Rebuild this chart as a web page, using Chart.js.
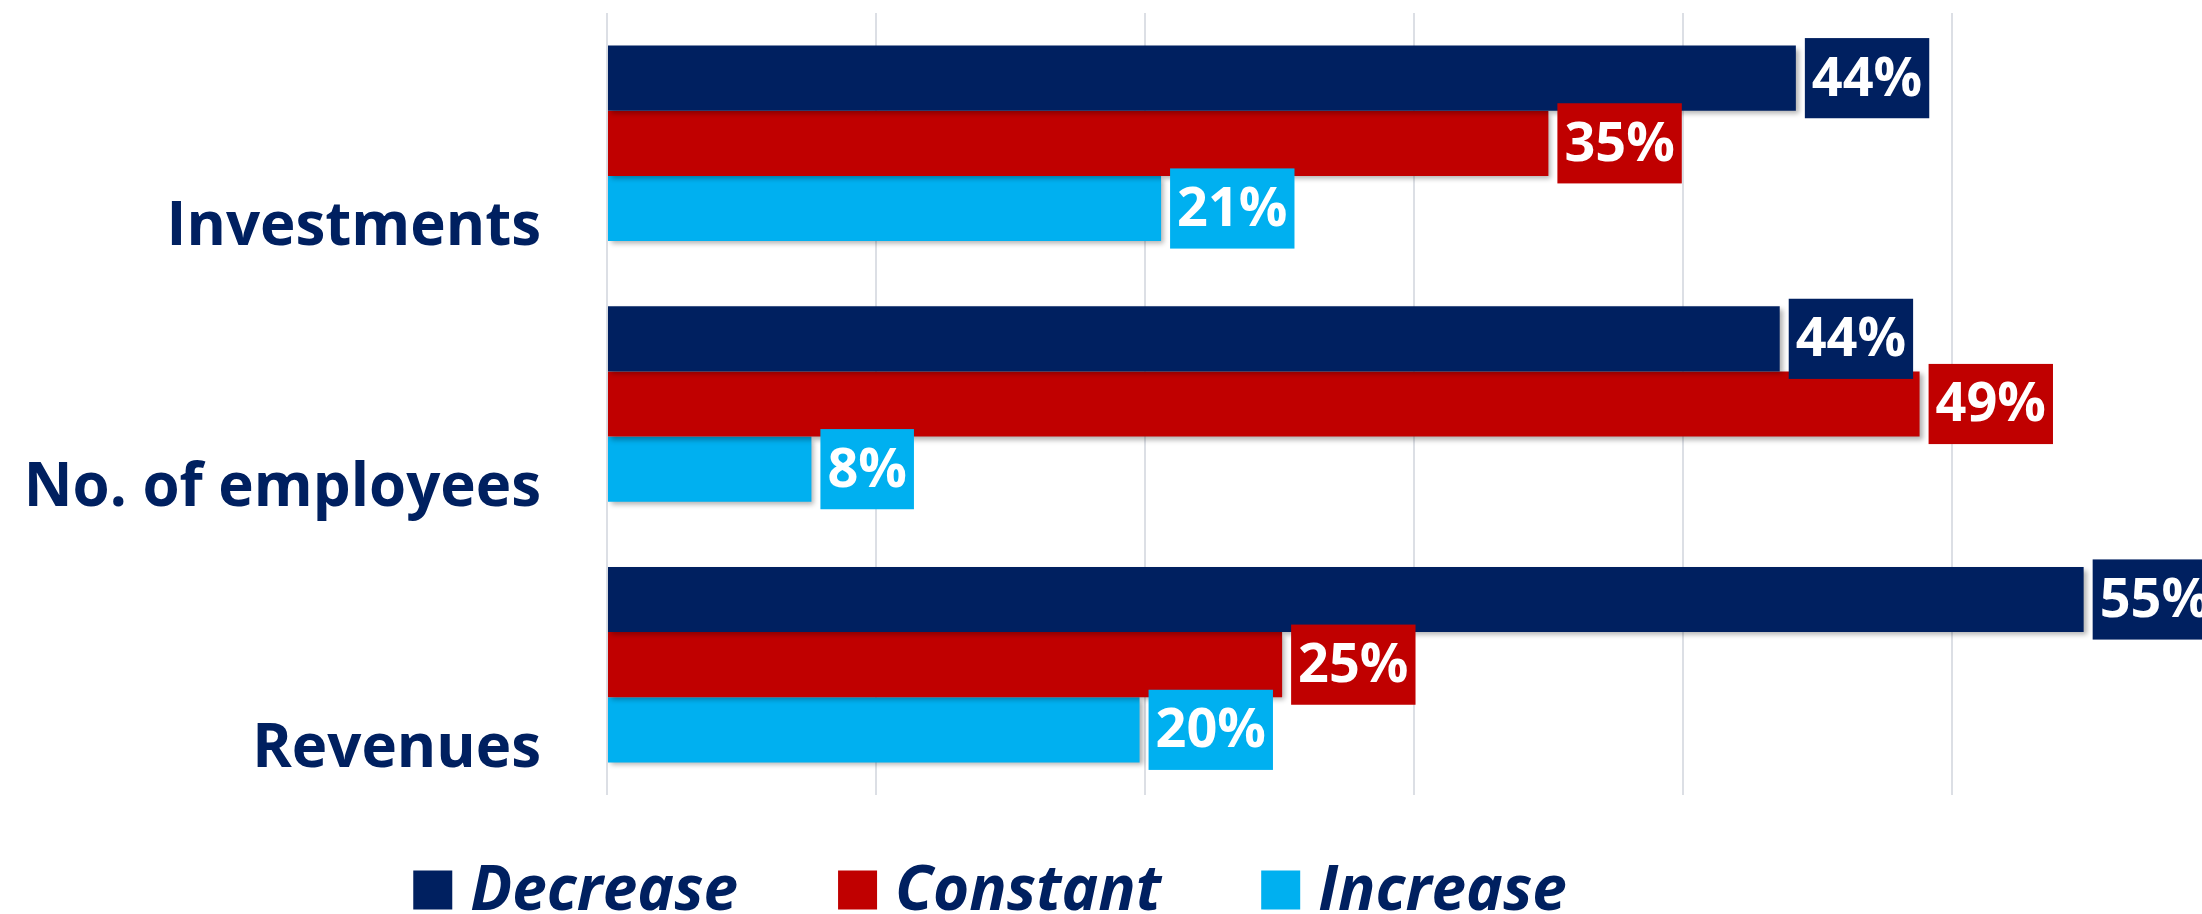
<!DOCTYPE html>
<html>
<head>
<meta charset="utf-8">
<script src="https://cdn.jsdelivr.net/npm/chart.js@4.4.1/dist/chart.umd.min.js"></script>
<style>
  html, body { margin: 0; padding: 0; background: #fff; overflow: hidden; }
  #wrap { width: 2202px; height: 914px; }
</style>
</head>
<body>
<div id="wrap"><canvas id="barChart"></canvas></div>
<script>
const categories = ['Investments', 'No. of employees', 'Revenues'];
const seriesNames = ['Decrease', 'Constant', 'Increase'];
const decrease = [44.2, 43.6, 54.9];
const constant = [35.0, 48.8, 25.1];
const increase = [20.6, 7.6, 19.8];
const xTicks = [0, 10, 20, 30, 40, 50];

const navy = '#002060';
const font = '"Open Sans", "Noto Sans", sans-serif';

// boxed value labels + soft shadow under the bars
const valueBoxes = {
  id: 'valueBoxes',
  beforeDatasetsDraw(chart) {
    const ctx = chart.ctx;
    ctx.save();
    ctx.shadowColor = 'rgba(0, 0, 0, 0.3)';
    ctx.shadowBlur = 5;
    ctx.shadowOffsetX = 3;
    ctx.shadowOffsetY = 3;
  },
  afterDatasetsDraw(chart) {
    const ctx = chart.ctx;
    ctx.restore();
    ctx.save();
    ctx.font = 'bold 54px ' + font;
    ctx.textAlign = 'center';
    ctx.textBaseline = 'middle';
    chart.data.datasets.forEach((ds, i) => {
      chart.getDatasetMeta(i).data.forEach((bar, j) => {
        const text = Math.round(ds.data[j]) + '%';
        const w = ctx.measureText(text).width + 14;
        const h = bar.height + 15;
        const x0 = bar.x + 9;
        ctx.fillStyle = ds.backgroundColor;
        ctx.fillRect(x0, bar.y - h / 2, w, h);
        ctx.fillStyle = '#ffffff';
        ctx.fillText(text, x0 + w / 2, bar.y + 2);
      });
    });
    ctx.restore();
  }
};

// legend drawn under the plot, shifted left like the original
const bottomLegend = {
  id: 'bottomLegend',
  afterDraw(chart) {
    const ctx = chart.ctx;
    const size = 39, gapText = 18, gapItem = 100;
    ctx.save();
    ctx.font = 'italic bold 62px ' + font;
    const items = chart.data.datasets.map(ds => ({
      label: ds.label,
      color: ds.backgroundColor,
      w: ctx.measureText(ds.label).width
    }));
    const total = items.reduce((s, it) => s + size + gapText + it.w, 0) + gapItem * (items.length - 1);
    let x = chart.width * 0.4496 - total / 2;
    const y = chart.chartArea.bottom + 95;
    ctx.textAlign = 'left';
    ctx.textBaseline = 'middle';
    items.forEach(it => {
      ctx.fillStyle = it.color;
      ctx.fillRect(x, y - size / 2, size, size);
      ctx.fillStyle = navy;
      ctx.fillText(it.label, x + size + gapText, y + 2);
      x += size + gapText + it.w + gapItem;
    });
    ctx.restore();
  }
};

new Chart(document.getElementById('barChart'), {
  type: 'bar',
  data: {
    labels: categories,
    datasets: [
      { label: seriesNames[0], data: decrease, backgroundColor: '#002060' },
      { label: seriesNames[1], data: constant, backgroundColor: '#C00000' },
      { label: seriesNames[2], data: increase, backgroundColor: '#00B0F0' },
    ],
  },
  options: {
    indexAxis: 'y',
    responsive: true,
    maintainAspectRatio: false,
    animation: false,
    datasets: {
      bar: {
        barPercentage: 1,
        categoryPercentage: 0.75,
      },
    },
    layout: {
      padding: { top: 13, bottom: 119, left: 0, right: 0 },
    },
    scales: {
      x: {
        min: 0,
        max: 59.3,
        afterBuildTicks(scale) {
          scale.ticks = xTicks.map(v => ({ value: v }));
        },
        ticks: { display: false },
        border: { display: false },
        grid: {
          color: '#dcdfe5',
          lineWidth: 2,
          drawTicks: false,
        },
      },
      y: {
        afterFit(scale) {
          scale.width = 607;
          scale.paddingTop = 0;
          scale.paddingBottom = 0;
        },
        grid: { display: false },
        border: { display: false },
        ticks: {
          color: navy,
          padding: 58,
          labelOffset: 85,
          font: { family: font, size: 60, weight: 'bold' },
        },
      },
    },
    plugins: {
      legend: { display: false },
      tooltip: { enabled: false },
    },
  },
  plugins: [valueBoxes, bottomLegend],
});
</script>
</body>
</html>
